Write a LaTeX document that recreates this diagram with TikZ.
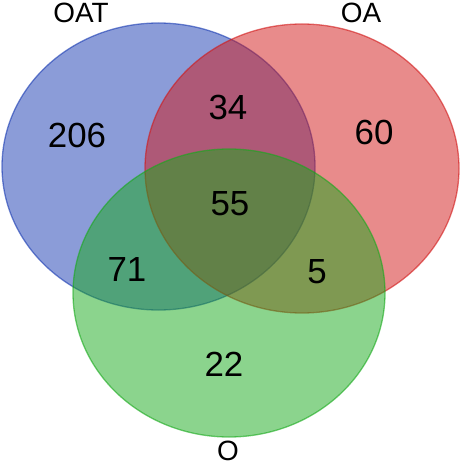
\documentclass[tikz,border=0pt]{standalone}
\usepackage{fontspec}
\setmainfont{Liberation Sans}
\definecolor{cblue}{RGB}{23,57,177}
\definecolor{cred}{RGB}{209,23,23}
\definecolor{cgreen}{RGB}{23,169,27}
\begin{document}
\begin{tikzpicture}[x=1bp,y=-1bp,
  setfill/.style={fill=#1,fill opacity=0.5,draw=#1,draw opacity=0.6,line width=1.3bp},
  num/.style={font=\fontsize{35}{35}\selectfont,inner sep=0pt},
  lab/.style={font=\fontsize{28}{28}\selectfont,inner sep=0pt}]
\useasboundingbox (0,0) rectangle (461,467);
\path[setfill=cblue] (158.5,166.5) ellipse [x radius=156.5, y radius=143.5];
\path[setfill=cred] (302,168.5) ellipse [x radius=157, y radius=144.5];
\path[setfill=cgreen] (229,293) ellipse [x radius=156, y radius=144];
\node[lab] (lOAT) at (81,13) {OAT};
\node[lab] (lOA) at (361,13) {OA};
\node[lab] (lO) at (228,451) {O};
\node[num] (n206) at (77,135) {206};
\node[num] (n34) at (228,107) {34};
\node[num] (n60) at (374,132) {60};
\node[num] (n55) at (230,204) {55};
\node[num] (n71) at (127,270) {71};
\node[num] (n5) at (317,272) {5};
\node[num] (n22) at (224,364) {22};
\end{tikzpicture}
\end{document}
